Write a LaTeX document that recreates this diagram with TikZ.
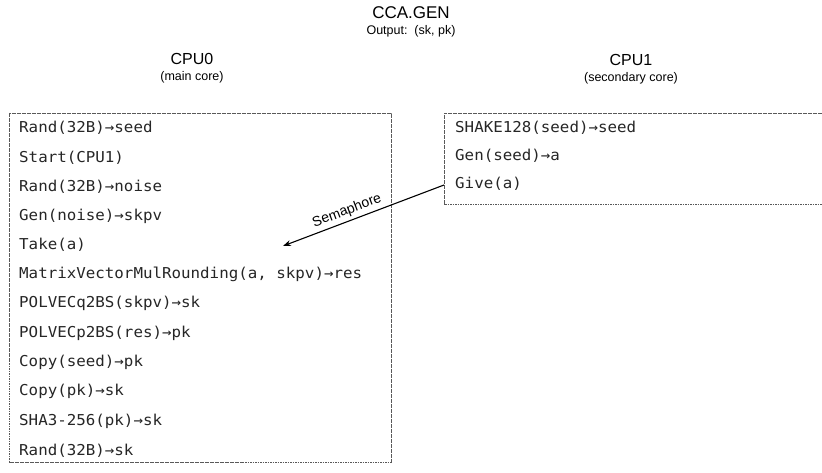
\documentclass[tikz,border=0pt]{standalone}
\usepackage{fontspec}
\setmainfont{Liberation Sans}
\newfontfamily\codefont{DejaVu Sans Mono}[FakeStretch=1.055]
\usetikzlibrary{arrows.meta}
\begin{document}
\begin{tikzpicture}[x=1pt,y=-1pt,
  code/.style={anchor=west,inner sep=0pt,text=black!85,font=\codefont\fontsize{15}{18}\selectfont},
  dbox/.style={draw=black!65,dash pattern=on 1.6pt off 0.9pt,line width=0.7pt},
  ttl/.style={inner sep=0pt,font=\fontsize{17}{20}\selectfont},
  cpu/.style={inner sep=0pt,font=\fontsize{16}{19}\selectfont},
  sub/.style={inner sep=0pt,font=\fontsize{12.5}{15}\selectfont},
  sem/.style={-{Stealth[length=8pt,width=6pt]},line width=1.1pt,black}]
\useasboundingbox (0,0) rectangle (822,473);
\fill[white] (0,0) rectangle (822,473);
% titles
\node[ttl] (title) at (411,13) {CCA.GEN};
\node[sub] (output) at (411,31) {Output:\ \ (sk, pk)};
\node[cpu] (cpu0) at (192,59) {CPU0};
\node[sub] (cpu0sub) at (192,77) {(main core)};
\node[cpu] (cpu1) at (631,60) {CPU1};
\node[sub] (cpu1sub) at (631,78) {(secondary core)};
% boxes
\draw[dbox] (9,113) rectangle (391,462);
\draw[dbox] (822,113) -- (444,113) -- (444,204) -- (822,204);
% CPU0 lines
\node[code] (l1) at (19,128.0) {Rand(32B)→seed};
\node[code] (l2) at (19,157.3) {Start(CPU1)};
\node[code] (l3) at (19,186.6) {Rand(32B)→noise};
\node[code] (l4) at (19,215.9) {Gen(noise)→skpv};
\node[code] (l5) at (19,245.2) {Take(a)};
\node[code] (l6) at (19,274.5) {MatrixVectorMulRounding(a, skpv)→res};
\node[code] (l7) at (19,303.8) {POLVECq2BS(skpv)→sk};
\node[code] (l8) at (19,333.1) {POLVECp2BS(res)→pk};
\node[code] (l9) at (19,362.4) {Copy(seed)→pk};
\node[code] (l10) at (19,391.7) {Copy(pk)→sk};
\node[code] (l11) at (19,421.0) {SHA3-256(pk)→sk};
\node[code] (l12) at (19,450.3) {Rand(32B)→sk};
% CPU1 lines
\node[code] (r1) at (455,128) {SHAKE128(seed)→seed};
\node[code] (r2) at (455,156) {Gen(seed)→a};
\node[code] (r3) at (455,184) {Give(a)};
% semaphore
\coordinate (semstart) at (444,185);
\coordinate (semend) at (283,246);
\draw[sem] (semstart) -- node[pos=0.58,sloped,above=3pt,inner sep=0pt,font=\fontsize{14}{16}\selectfont] (semlabel) {Semaphore} (semend);
\end{tikzpicture}
\end{document}
